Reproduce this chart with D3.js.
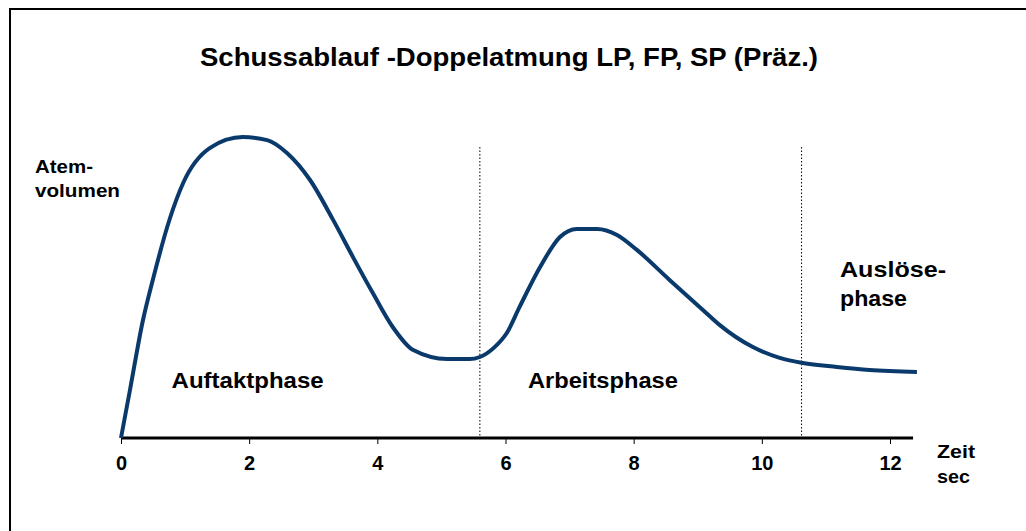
<!DOCTYPE html>
<html>
<head>
<meta charset="utf-8">
<script src="https://cdn.jsdelivr.net/npm/d3@7"></script>
<style>
  body { margin: 0; background: #fff; }
  svg { display: block; font-family: "Liberation Sans", Arial, sans-serif; }
</style>
</head>
<body>
<div id="chart"></div>
<script>
// Zeit in Sekunden und Atemvolumen (relative Einheiten)
const zeit = [0, 0.14, 0.34, 0.5, 0.76, 0.97, 1.39, 1.9, 2.28, 2.59, 2.95, 3.31, 3.62, 3.93, 4.24, 4.56,
  5.09, 5.44, 5.6, 5.83, 6.02, 6.22, 6.54, 6.85, 7.11, 7.43, 7.74, 8.05, 8.56, 9.08, 9.34, 9.86,
  10.28, 10.64, 11.17, 11.68, 12.42];
const volumen = [0, 16, 39, 53, 73, 85, 96.7, 100.3, 99.3, 95, 86, 72.7, 60.3, 48.3, 37, 29.3,
  26.3, 26.3, 27, 30.3, 35, 43.7, 57, 67, 69.7, 69.7, 67.7, 62.7, 52.7, 42.7, 37.7, 30.3,
  26.7, 25, 23.7, 22.7, 22];
const tickWerte = [0, 2, 4, 6, 8, 10, 12];
const phasenGrenzen = [5.6, 10.62];
const phasen = [
  { zeilen: ["Auftaktphase"], breiten: [152], x: 0.79, y: 16.7 },
  { zeilen: ["Arbeitsphase"], breiten: [150], x: 6.35, y: 16.7 },
  { zeilen: ["Auslöse-", "phase"], breiten: [106, 67], x: 11.22, y: 53.7 }
];
const achsenTexte = [
  { text: "Zeit", x: 937, y: 458, breite: 38 },
  { text: "sec", x: 937, y: 483, breite: 33 },
  { text: "Atem-", x: 35, y: 173, breite: 58 },
  { text: "volumen", x: 35, y: 197, breite: 85 }
];

const width = 1026, height = 531;
const svg = d3.select("#chart").append("svg")
  .attr("width", width)
  .attr("height", height);

// Rahmen (nur oben und links sichtbar)
svg.append("path")
  .attr("d", "M10,531 L10,9 L1026,9")
  .attr("fill", "none")
  .attr("stroke", "#000")
  .attr("stroke-width", 2);

const x = d3.scaleLinear().domain([0, 12]).range([121, 890]);
const y = d3.scaleLinear().domain([0, 100]).range([438, 138]);

// Titel
svg.append("text")
  .attr("x", 200).attr("y", 66)
  .attr("font-size", 25).attr("font-weight", "bold")
  .attr("textLength", 618).attr("lengthAdjust", "spacingAndGlyphs")
  .text("Schussablauf -Doppelatmung LP, FP, SP (Präz.)");

// Phasengrenzen gepunktet
svg.append("g")
  .selectAll("line")
  .data(phasenGrenzen)
  .join("line")
  .attr("x1", d => x(d)).attr("x2", d => x(d))
  .attr("y1", 147).attr("y2", 436)
  .attr("stroke", "#000")
  .attr("stroke-width", 1)
  .attr("stroke-dasharray", "1.5,2");

// x-Achse
const axis = svg.append("g")
  .attr("transform", "translate(0,438)")
  .call(d3.axisBottom(x).tickValues(tickWerte).tickSize(6).tickSizeOuter(0));
axis.select(".domain").remove();
axis.selectAll(".tick line").attr("stroke", "#000").attr("stroke-width", 1);
axis.selectAll(".tick text")
  .attr("y", 32).attr("dy", null)
  .attr("font-size", 20).attr("font-weight", "bold")
  .attr("font-family", "Liberation Sans, Arial, sans-serif")
  .attr("fill", "#000");
axis.append("line")
  .attr("x1", x(0)).attr("x2", x(12.36))
  .attr("y1", 0).attr("y2", 0)
  .attr("stroke", "#000").attr("stroke-width", 3);

// Achsentitel
svg.append("g").attr("font-size", 19).attr("font-weight", "bold")
  .selectAll("text")
  .data(achsenTexte)
  .join("text")
  .attr("x", d => d.x).attr("y", d => d.y)
  .attr("textLength", d => d.breite)
  .attr("lengthAdjust", "spacingAndGlyphs")
  .text(d => d.text);

// Kurve
const punkte = zeit.map((t, i) => [t, volumen[i]]);
svg.append("path")
  .datum(punkte)
  .attr("fill", "none")
  .attr("stroke", "#0a3a6c")
  .attr("stroke-width", 4)
  .attr("stroke-linejoin", "round")
  .attr("d", d3.line().x(d => x(d[0])).y(d => y(d[1])).curve(d3.curveMonotoneX));

// Phasenbeschriftungen
const lab = svg.append("g").attr("font-size", 22).attr("font-weight", "bold");
phasen.forEach(p => {
  p.zeilen.forEach((z, i) => {
    lab.append("text")
      .attr("x", x(p.x))
      .attr("y", y(p.y) + i * 29)
      .attr("textLength", p.breiten[i])
      .attr("lengthAdjust", "spacingAndGlyphs")
      .text(z);
  });
});
</script>
</body>
</html>
